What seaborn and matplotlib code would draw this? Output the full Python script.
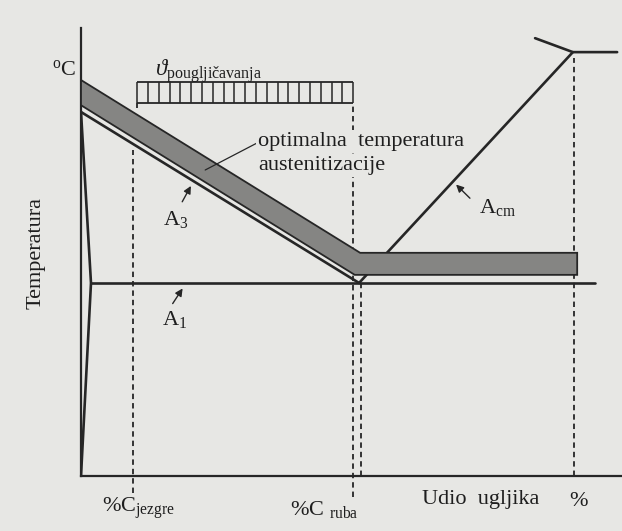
"""
Schematic Fe-C diagram section: optimal austenitization temperature
for carburized steel (core vs. surface carbon content).

Run:
    python plot.py
"""

import matplotlib
matplotlib.use("Agg")
import numpy as np
import matplotlib.pyplot as plt
import seaborn as sns

# -----------------------------
# Data (schematic units: x = carbon content, y = temperature, 0-100)
# -----------------------------
# A3 line (G -> S)
a3_x = [0.0, 51.5]
a3_y = [80.9, 42.9]

# ferrite boundary G -> P -> Q
gpq_x = [0.0, 1.85, 0.0]
gpq_y = [80.9, 42.9, 0.0]

# A1 line
a1_x = [1.85, 95.2]
a1_y = [42.9, 42.9]

# Acm line (S -> E)
acm_x = [51.5, 91.1]
acm_y = [42.9, 94.2]

# solidus / eutectic lines meeting at E
sol_x = [84.1, 91.1, 99.3]
sol_y = [97.3, 94.2, 94.2]

# optimal austenitization band (polygon outline)
band_x = [0.0, 51.7, 91.9, 91.9, 50.7, 0.0]
band_y = [88.0, 49.6, 49.6, 44.7, 44.7, 82.4]

# carburizing temperature range bar
carb_x = [10.4, 50.4]
carb_y = [82.9, 87.6]

# dashed verticals: core C, surface C, eutectoid, point E
vert_x = [9.6, 50.4, 51.9, 91.3]
vert_top = [72.4, 82.9, 42.9, 93.0]
vert_bottom = [-3.8, -4.7, 0.0, 0.0]

LINE = "#262626"
BG = "#e7e7e4"
FS = 16

# -----------------------------
# Style
# -----------------------------
sns.set_theme(style="white")
plt.rcParams["font.family"] = ["Liberation Serif", "DejaVu Serif"]
plt.rcParams["mathtext.fontset"] = "custom"
plt.rcParams["mathtext.rm"] = "Liberation Serif"
plt.rcParams["mathtext.it"] = "Liberation Serif:italic"

fig = plt.figure(figsize=(6.22, 5.31), dpi=100, facecolor=BG)
ax = fig.add_axes([81 / 622, 55 / 531, 541 / 622, 448 / 531])
ax.set_facecolor(BG)
ax.set_xlim(0, 100.2)
ax.set_ylim(0, 99.56)

for side in ["top", "right"]:
    ax.spines[side].set_visible(False)
for side in ["left", "bottom"]:
    ax.spines[side].set_color(LINE)
    ax.spines[side].set_linewidth(1.6)
ax.set_xticks([])
ax.set_yticks([])

# main phase lines
for xs, ys in [(a3_x, a3_y), (gpq_x, gpq_y), (a1_x, a1_y), (acm_x, acm_y), (sol_x, sol_y)]:
    sns.lineplot(x=xs, y=ys, ax=ax, color=LINE, lw=1.9, sort=False,
                 estimator=None, zorder=2)

# austenitization band on top of Acm
ax.fill(band_x, band_y, facecolor="#858583", edgecolor=LINE, lw=1.3, zorder=3)

# dashed verticals
for x, y0, y1 in zip(vert_x, vert_bottom, vert_top):
    ax.plot([x, x], [y0, y1], color=LINE, lw=1.3, dashes=(3, 2.2),
            zorder=1, clip_on=False)

# carburizing range bar with hatching cells
n_cells = 20
ax.hlines(carb_y, carb_x[0], carb_x[1], color=LINE, lw=1.3)
ax.vlines(np.linspace(carb_x[0], carb_x[1], n_cells + 1), carb_y[0], carb_y[1],
          color=LINE, lw=1.1)
ax.vlines(carb_x[0], 81.8, carb_y[0], color=LINE, lw=1.3)

# -----------------------------
# Labels and annotations
# -----------------------------
txt = dict(color="#1e1e1e", clip_on=False)
mask = dict(facecolor=BG, edgecolor="none", pad=1.5)
ax.text(-3.1, 90.2, r"$^{\mathrm{o}}$C", fontsize=FS, ha="center", va="center", **txt)
ax.text(-8.3, 49.6, "Temperatura", fontsize=FS, rotation=90, ha="center", va="center", **txt)
ax.text(13.7, 90.0, r"$\vartheta_{\mathrm{pougljičavanja}}$", fontsize=16.5,
        ha="left", va="center", **txt)
ax.text(32.8, 74.3, "optimalna  temperatura", fontsize=FS, ha="left", va="center",
        bbox=mask, zorder=5, **txt)
ax.text(32.8, 69.0, "austenitizacije", fontsize=FS, ha="left", va="center",
        bbox=mask, zorder=5, **txt)
ax.plot([32.6, 23.0], [74.0, 68.0], color=LINE, lw=0.9, zorder=4)

ax.text(17.6, 56.9, r"A$_3$", fontsize=FS, ha="center", va="center", **txt)
ax.annotate("", xy=(20.6, 65.0), xytext=(18.5, 60.4),
            arrowprops=dict(arrowstyle="-|>", color=LINE, lw=1.0, mutation_scale=11))
ax.text(17.4, 34.7, r"A$_1$", fontsize=FS, ha="center", va="center", **txt)
ax.annotate("", xy=(19.1, 42.2), xytext=(16.7, 37.8),
            arrowprops=dict(arrowstyle="-|>", color=LINE, lw=1.0, mutation_scale=11))
ax.text(77.2, 59.6, r"A$_{\mathrm{cm}}$", fontsize=FS, ha="center", va="center", **txt)
ax.annotate("", xy=(69.1, 65.2), xytext=(72.4, 61.3),
            arrowprops=dict(arrowstyle="-|>", color=LINE, lw=1.0, mutation_scale=11))

ax.text(10.6, -7.2, r"%C$_{\mathrm{jezgre}}$", fontsize=FS, ha="center", va="center", **txt)
ax.text(45.0, -7.4, r"%C $_{\mathrm{ruba}}$", fontsize=FS, ha="center", va="center", **txt)
ax.text(74.1, -5.3, "Udio  ugljika", fontsize=FS, ha="center", va="center", **txt)
ax.text(92.2, -5.6, "%", fontsize=FS, ha="center", va="center", **txt)

fig.savefig("out.png", dpi=100, facecolor=BG)
plt.close(fig)
